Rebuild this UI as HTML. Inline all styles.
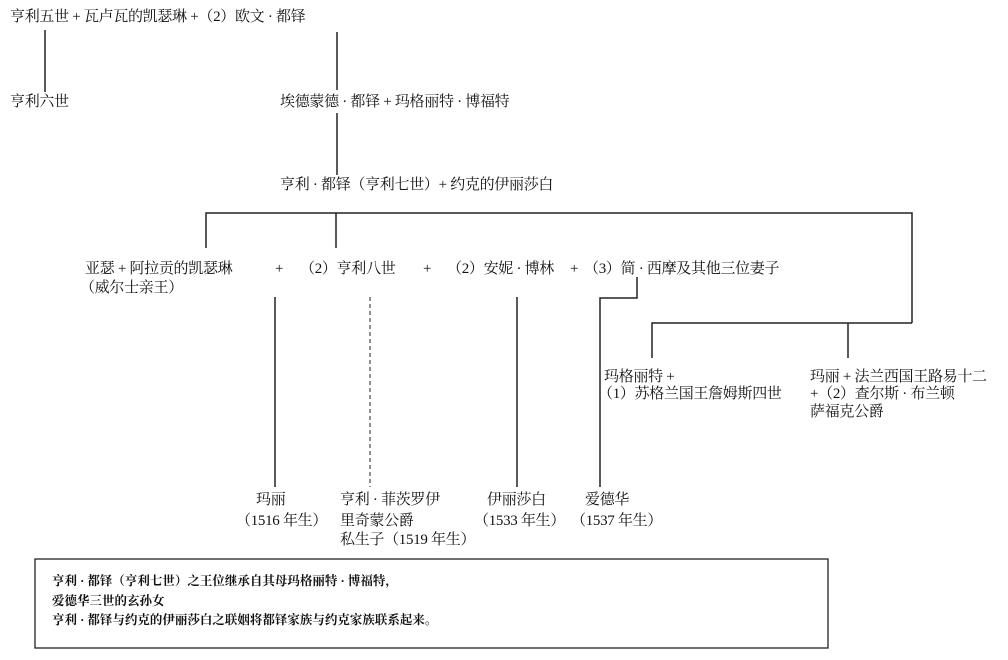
<!DOCTYPE html>
<html><head><meta charset="utf-8"><style>
body{margin:0;width:1008px;height:660px;background:#fff;position:relative;overflow:hidden;font-family:"Liberation Serif","Noto Serif CJK SC","Noto Sans CJK SC",serif;color:#111;}
.t{position:absolute;font-size:15px;white-space:nowrap;line-height:17px;letter-spacing:-0.3px;}
.k{position:absolute;font-size:12.5px;white-space:nowrap;line-height:14px;font-weight:bold;}
svg{position:absolute;left:0;top:0;}
</style></head><body>
<svg width="1008" height="660">
<g stroke="#222" stroke-width="1.5" fill="none">
<line x1="45" y1="30" x2="45" y2="92"/>
<line x1="337" y1="32" x2="337" y2="90"/>
<line x1="337" y1="113" x2="337" y2="175"/>
<polyline points="206,248 206,213 912,213 912,323"/>
<line x1="336" y1="213" x2="336" y2="248"/>
<polyline points="652,358 652,323 912,323"/>
<line x1="848" y1="323" x2="848" y2="358"/>
<polyline points="637,277 637,298 600,298 600,487"/>
<line x1="275" y1="297" x2="275" y2="487"/>
<line x1="517" y1="297" x2="517" y2="487"/>
<line x1="370" y1="297" x2="370" y2="487" stroke-dasharray="4,3" stroke-width="1"/>
<rect x="35" y="559" width="793" height="89" stroke-width="1.3"/>
</g>
</svg>
<div class="t" style="left:10px;top:9px">亨利五世 + 瓦卢瓦的凯瑟琳 +（2）欧文 · 都铎</div>
<div class="t" style="left:10px;top:94px">亨利六世</div>
<div class="t" style="left:280px;top:94px">埃德蒙德 · 都铎 + 玛格丽特 · 博福特</div>
<div class="t" style="left:280px;top:177px">亨利 · 都铎（亨利七世）+ 约克的伊丽莎白</div>
<div class="t" style="left:85px;top:261px">亚瑟 + 阿拉贡的凯瑟琳</div>
<div class="t" style="left:80px;top:280px">（威尔士亲王）</div>
<div class="t" style="left:275px;top:261px">+</div>
<div class="t" style="left:300px;top:261px">（2）亨利八世</div>
<div class="t" style="left:423px;top:261px">+</div>
<div class="t" style="left:447px;top:261px">（2）安妮 · 博林</div>
<div class="t" style="left:570px;top:261px">+</div>
<div class="t" style="left:584px;top:261px">（3）简 · 西摩及其他三位妻子</div>
<div class="t" style="left:604px;top:369px">玛格丽特 +</div>
<div class="t" style="left:598px;top:386px">（1）苏格兰国王詹姆斯四世</div>
<div class="t" style="left:810px;top:369px">玛丽 + 法兰西国王路易十二</div>
<div class="t" style="left:810px;top:386px">+（2）查尔斯 · 布兰顿</div>
<div class="t" style="left:810px;top:404px">萨福克公爵</div>
<div class="t" style="left:256px;top:492px">玛丽</div>
<div class="t" style="left:236px;top:513px">（1516 年生）</div>
<div class="t" style="left:340px;top:492px">亨利 · 菲茨罗伊</div>
<div class="t" style="left:340px;top:513px">里奇蒙公爵</div>
<div class="t" style="left:340px;top:532px">私生子（1519 年生）</div>
<div class="t" style="left:487px;top:492px">伊丽莎白</div>
<div class="t" style="left:474px;top:513px">（1533 年生）</div>
<div class="t" style="left:585px;top:492px">爱德华</div>
<div class="t" style="left:571px;top:513px">（1537 年生）</div>
<div class="k" style="left:52px;top:574px">亨利 · 都铎（亨利七世）之王位继承自其母玛格丽特 · 博福特，</div>
<div class="k" style="left:52px;top:594px">爱德华三世的玄孙女</div>
<div class="k" style="left:52px;top:613px">亨利 · 都铎与约克的伊丽莎白之联姻将都铎家族与约克家族联系起来。</div>
</body></html>
